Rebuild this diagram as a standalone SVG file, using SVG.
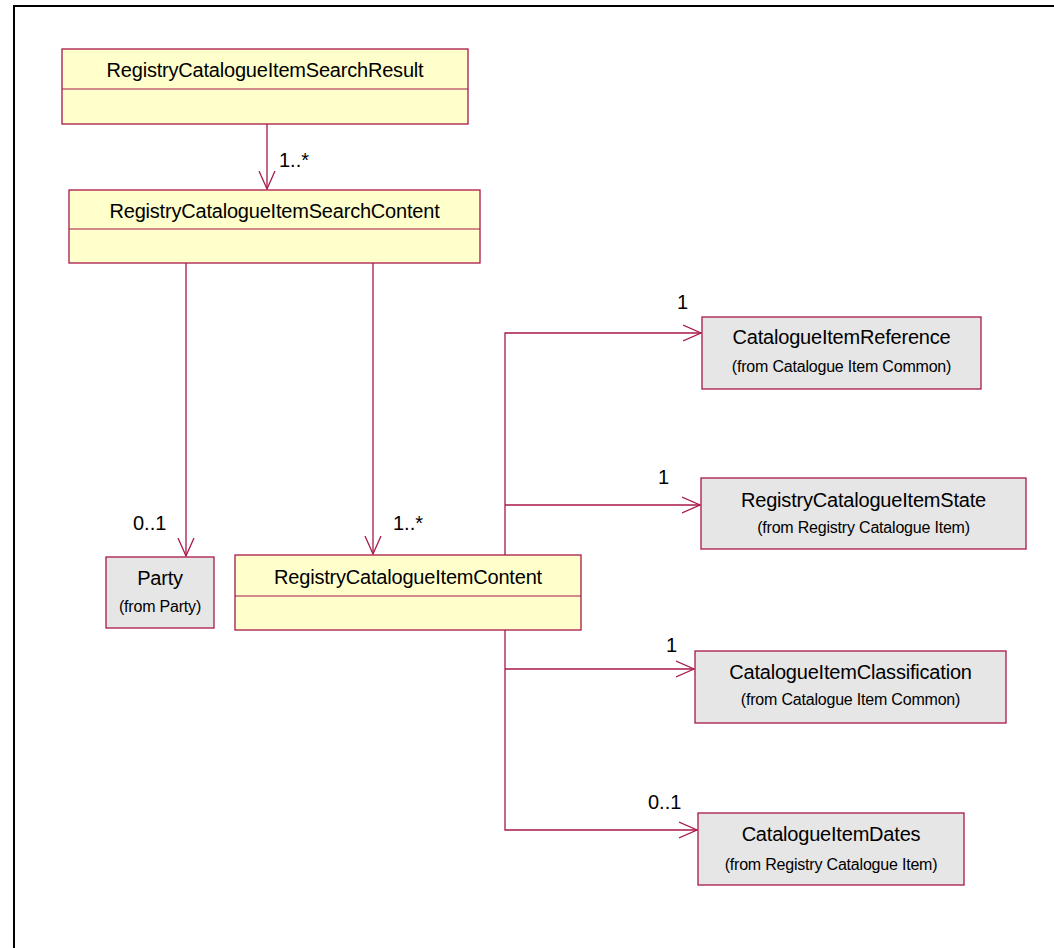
<svg xmlns="http://www.w3.org/2000/svg" width="1054" height="948" viewBox="0 0 1054 948">
<style>
.frame{fill:none;stroke:#000;stroke-width:2}
.cls{fill:#ffffcc;stroke:#a81848;stroke-width:1.3}
.ext{fill:#e6e6e6;stroke:#a81848;stroke-width:1.3}
.div{stroke:#a81848;stroke-width:1.2}
.t{font-family:"Liberation Sans",Arial,sans-serif;font-size:20px;letter-spacing:-0.2px;fill:#000;text-anchor:middle}
.s{font-family:"Liberation Sans",Arial,sans-serif;font-size:16px;letter-spacing:-0.2px;fill:#000;text-anchor:middle}
.m{font-family:"Liberation Sans",Arial,sans-serif;font-size:20px;fill:#000}
.c{fill:none;stroke:#a81848;stroke-width:1.3}
</style>
<defs>
<marker id="open" viewBox="0 0 20 18" refX="18" refY="9" markerWidth="20" markerHeight="18" markerUnits="userSpaceOnUse" orient="auto">
<path d="M0,1 L18,9 L0,17" fill="none" stroke="#a81848" stroke-width="1.3"/>
</marker>
</defs>
<rect width="1054" height="948" fill="#fff"/>
<path class="frame" d="M14,948 V6 H1054"/>
<g id="connectors">
<path class="c" d="M267,124 V189" marker-end="url(#open)"/>
<path class="c" d="M186,263 V556" marker-end="url(#open)"/>
<path class="c" d="M373,263 V554" marker-end="url(#open)"/>
<path class="c" d="M505,555 V333 H701" marker-end="url(#open)"/>
<path class="c" d="M505,505 H700" marker-end="url(#open)"/>
<path class="c" d="M505,630 V830 H697" marker-end="url(#open)"/>
<path class="c" d="M505,669 H694" marker-end="url(#open)"/>
<text class="m" x="279" y="167">1..*</text>
<text class="m" x="133" y="530">0..1</text>
<text class="m" x="393" y="530">1..*</text>
<text class="m" x="677" y="309">1</text>
<text class="m" x="658" y="484">1</text>
<text class="m" x="666" y="652">1</text>
<text class="m" x="648" y="809">0..1</text>
</g>
<g id="RegistryCatalogueItemSearchResult">
<rect class="cls" x="62" y="49" width="406" height="75"/>
<line class="div" x1="62" y1="89" x2="468" y2="89"/>
<text class="t" x="265" y="77">RegistryCatalogueItemSearchResult</text>
</g>
<g id="RegistryCatalogueItemSearchContent">
<rect class="cls" x="69" y="190" width="411" height="73"/>
<line class="div" x1="69" y1="229" x2="480" y2="229"/>
<text class="t" x="274.5" y="218">RegistryCatalogueItemSearchContent</text>
</g>
<g id="Party">
<rect class="ext" x="106" y="557" width="108" height="71"/>
<text class="t" x="160" y="585">Party</text>
<text class="s" x="160" y="612">(from Party)</text>
</g>
<g id="RegistryCatalogueItemContent">
<rect class="cls" x="235" y="555" width="346" height="75"/>
<line class="div" x1="235" y1="596" x2="581" y2="596"/>
<text class="t" x="408" y="584">RegistryCatalogueItemContent</text>
</g>
<g id="CatalogueItemReference">
<rect class="ext" x="702" y="317" width="279" height="72"/>
<text class="t" x="841.5" y="344">CatalogueItemReference</text>
<text class="s" x="841.5" y="372">(from Catalogue Item Common)</text>
</g>
<g id="RegistryCatalogueItemState">
<rect class="ext" x="701" y="478" width="325" height="71"/>
<text class="t" x="863.5" y="507">RegistryCatalogueItemState</text>
<text class="s" x="863.5" y="533">(from Registry Catalogue Item)</text>
</g>
<g id="CatalogueItemClassification">
<rect class="ext" x="695" y="651" width="311" height="72"/>
<text class="t" x="850.5" y="679">CatalogueItemClassification</text>
<text class="s" x="850.5" y="705">(from Catalogue Item Common)</text>
</g>
<g id="CatalogueItemDates">
<rect class="ext" x="698" y="813" width="266" height="72"/>
<text class="t" x="831" y="841">CatalogueItemDates</text>
<text class="s" x="831" y="870">(from Registry Catalogue Item)</text>
</g>
</svg>
